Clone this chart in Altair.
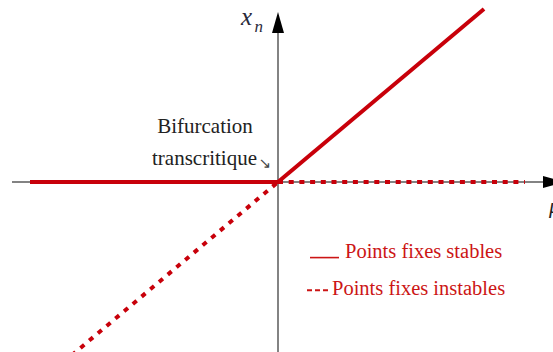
import altair as alt
import pandas as pd

# Branches of the transcritical bifurcation (mu, x_n)
stable_left_mu = [-2.48, 0.0]
stable_left_xn = [0.0, 0.0]
stable_right_mu = [0.0, 2.06]
stable_right_xn = [0.0, 2.06]
unstable_right_mu = [0.0, 2.47]
unstable_right_xn = [0.0, 0.0]
unstable_left_mu = [0.0, -2.15]
unstable_left_xn = [0.0, -2.15]

# Coordinate axes
h_axis_mu = [-2.66, 2.66]
h_axis_xn = [0.0, 0.0]
v_axis_mu = [0.0, 0.0]
v_axis_xn = [-2.1, 1.86]

RED = "#c8000a"
GREY = "#5a5a5a"
SERIF = "Liberation Serif"

x_scale = alt.Scale(domain=[-2.78, 2.75], nice=False, zero=False)
y_scale = alt.Scale(domain=[-2.024, 2.167], nice=False, zero=False)


def seg(mu, xn):
    return pd.DataFrame({"mu": mu, "xn": xn})


def enc(chart):
    return chart.encode(
        x=alt.X("mu:Q", scale=x_scale, axis=None),
        y=alt.Y("xn:Q", scale=y_scale, axis=None),
    )


def line(df, **kw):
    return enc(alt.Chart(df).mark_line(clip=True, **kw))


h_axis = line(seg(h_axis_mu, h_axis_xn), color=GREY, strokeWidth=1.5)
v_axis = line(seg(v_axis_mu, v_axis_xn), color=GREY, strokeWidth=1.5)

arrows = enc(alt.Chart(pd.DataFrame({
    "mu": [0.0, 2.755],
    "xn": [1.899, 0.0],
    "shape": ["M0,-1L0.57,1L-0.57,1Z", "M1,0L-1,-0.57L-1,0.57Z"],
})).mark_point(filled=True, color="black", size=441, opacity=1, clip=False)).encode(
    shape=alt.Shape("shape:N", scale=None),
)

stable = (
    line(seg(stable_left_mu, stable_left_xn), color=RED, strokeWidth=4)
    + line(seg(stable_right_mu, stable_right_xn), color=RED, strokeWidth=4)
)
unstable = (
    line(seg(unstable_right_mu, unstable_right_xn), color=RED, strokeWidth=4,
         strokeDash=[5, 5.7])
    + line(seg(unstable_left_mu, unstable_left_xn), color=RED, strokeWidth=4,
           strokeDash=[5, 6.4])
)


def text_layer(mu, xn, txt, **kw):
    df = pd.DataFrame({"mu": mu, "xn": xn, "text": txt})
    return enc(alt.Chart(df).mark_text(**kw)).encode(text="text:N")


# Annotation of the bifurcation point
label_a = text_layer([-0.73], [0.583], ["Bifurcation"], font=SERIF, fontSize=21,
                     color="#222222", align="center", baseline="alphabetic")
label_b = text_layer([-0.21], [0.202], ["transcritique"], font=SERIF, fontSize=21,
                     color="#222222", align="right", baseline="alphabetic")
pointer = text_layer([-0.13], [0.226], ["↘"], font="DejaVu Sans", fontSize=15,
                     color="#444444", align="center", baseline="middle")

# Axis names
mu_label = text_layer([2.71], [-0.37], ["μ"], font=SERIF, fontSize=22, fontStyle="italic",
                      color="#222222", align="left", baseline="alphabetic", clip=False)
xn_x = text_layer([-0.37], [1.87], ["x"], font=SERIF, fontSize=25, fontStyle="italic",
                  color="#2a2a3a", align="left", baseline="alphabetic")
xn_n = text_layer([-0.235], [1.79], ["n"], font=SERIF, fontSize=17, fontStyle="italic",
                  color="#2a2a3a", align="left", baseline="alphabetic")

# Legend
legend_names = ["Points fixes stables", "Points fixes instables"]
legend_mu = [0.67, 0.54]
legend_xn = [-0.905, -1.345]
legend_text = text_layer(legend_mu, legend_xn, legend_names, font=SERIF, fontSize=20.5,
                         color="#cc1515", align="left", baseline="alphabetic")
legend_solid = line(seg([0.32, 0.61], [-0.90, -0.90]), color="#cc1515", strokeWidth=1.6)
legend_dash = line(seg([0.29, 0.50], [-1.29, -1.29]), color="#cc1515", strokeWidth=2,
                   strokeDash=[5, 3])

chart = alt.layer(
    h_axis, v_axis, arrows, stable, unstable,
    label_a, label_b, pointer, mu_label, xn_x, xn_n,
    legend_text, legend_solid, legend_dash,
).properties(
    width=553, height=352, padding=0, autosize="none",
    background="white",
).configure_view(stroke=None)

chart.save("out.html", embed_options={"renderer": "svg", "actions": False})
